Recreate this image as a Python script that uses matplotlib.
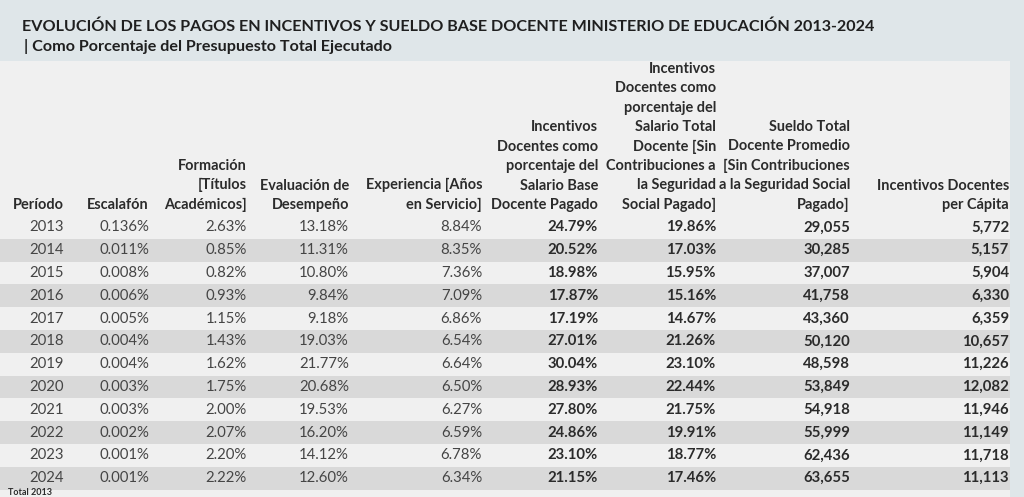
import matplotlib.pyplot as plt
from matplotlib.patches import Rectangle

plt.rcParams["font.family"] = ["Lato", "DejaVu Sans"]

TITLE = ("EVOLUCIÓN DE LOS PAGOS EN INCENTIVOS Y SUELDO BASE DOCENTE "
         "MINISTERIO DE EDUCACIÓN 2013-2024")
SUBTITLE = "| Como Porcentaje del Presupuesto Total Ejecutado"
FOOTNOTE = "Total 2013"

HEADERS = [
    "Período",
    "Escalafón",
    "Formación\n[Títulos\nAcadémicos]",
    "Evaluación de\nDesempeño",
    "Experiencia [Años\nen Servicio]",
    "Incentivos\nDocentes como\nporcentaje del\nSalario Base\nDocente Pagado",
    "Incentivos\nDocentes como\nporcentaje del\nSalario Total\nDocente [Sin\nContribuciones a\nla Seguridad\nSocial Pagado]",
    "Sueldo Total\nDocente Promedio\n[Sin Contribuciones\na la Seguridad Social\nPagado]",
    "Incentivos Docentes\nper Cápita",
]

periods = [2013, 2014, 2015, 2016, 2017, 2018, 2019, 2020, 2021, 2022, 2023, 2024]
escalafon = [0.136, 0.011, 0.008, 0.006, 0.005, 0.004, 0.004, 0.003, 0.003,
             0.002, 0.001, 0.001]
formacion = [2.63, 0.85, 0.82, 0.93, 1.15, 1.43, 1.62, 1.75, 2.00, 2.07, 2.20, 2.22]
evaluacion = [13.18, 11.31, 10.80, 9.84, 9.18, 19.03, 21.77, 20.68, 19.53,
              16.20, 14.12, 12.60]
experiencia = [8.84, 8.35, 7.36, 7.09, 6.86, 6.54, 6.64, 6.50, 6.27, 6.59,
               6.78, 6.34]
inc_base = [24.79, 20.52, 18.98, 17.87, 17.19, 27.01, 30.04, 28.93, 27.80,
            24.86, 23.10, 21.15]
inc_total = [19.86, 17.03, 15.95, 15.16, 14.67, 21.26, 23.10, 22.44, 21.75,
             19.91, 18.77, 17.46]
sueldo = [29055, 30285, 37007, 41758, 43360, 50120, 48598, 53849, 54918,
          55999, 62436, 63655]
per_capita = [5772, 5157, 5904, 6330, 6359, 10657, 11226, 12082, 11946,
              11149, 11718, 11113]

# column right edges in pixels
COL_RIGHT = [64, 149, 247, 349, 482, 598, 716, 850, 1009]
HEADER_BOTTOM = 212
ROW_TOP = 216
ROW_H = 22.8
PANEL_RIGHT = 1010
FS = 10.7
HFS = 10.45

fig = plt.figure(figsize=(10.24, 4.97), dpi=100)
fig.patch.set_facecolor("#dfe6e9")
ax = fig.add_axes([0, 0, 1, 1])
ax.set_xlim(0, 1024)
ax.set_ylim(497, 0)
ax.axis("off")

ax.add_patch(Rectangle((0, 61), PANEL_RIGHT, 497 - 61, facecolor="#f0f0f0",
                       edgecolor="none"))

ax.text(22, 27, TITLE, fontsize=11.65, fontweight="bold", color="#1f1f1f",
        va="center", ha="left")
ax.text(24, 46, SUBTITLE, fontsize=11.65, fontweight="bold", color="#1f1f1f",
        va="center", ha="left")

for x, h in zip(COL_RIGHT, HEADERS):
    ax.text(x, HEADER_BOTTOM, h, fontsize=HFS, fontweight="bold",
            color="#2b2b2b", ha="right", va="bottom", multialignment="right",
            linespacing=1.49)

for i, year in enumerate(periods):
    top = ROW_TOP + i * ROW_H
    yc = top + ROW_H / 2
    if i % 2 == 1:
        ax.add_patch(Rectangle((0, top), PANEL_RIGHT, ROW_H,
                               facecolor="#d9d9d9", edgecolor="none"))
    plain = [str(year), f"{escalafon[i]:.3f}%", f"{formacion[i]:.2f}%",
             f"{evaluacion[i]:.2f}%", f"{experiencia[i]:.2f}%"]
    bold = [f"{inc_base[i]:.2f}%", f"{inc_total[i]:.2f}%",
            f"{sueldo[i]:,}", f"{per_capita[i]:,}"]
    for j, s in enumerate(plain):
        ax.text(COL_RIGHT[j], yc, s, fontsize=FS, color="#454545",
                ha="right", va="center")
    for j, s in enumerate(bold):
        ax.text(COL_RIGHT[5 + j], yc, s, fontsize=FS, fontweight="bold",
                color="#2b2b2b", ha="right", va="center")

ax.text(8, 492.5, FOOTNOTE, fontsize=6.5, fontweight="bold",
        color="#2b2b2b", ha="left", va="center")

fig.savefig("out.png", dpi=100, facecolor=fig.get_facecolor())
